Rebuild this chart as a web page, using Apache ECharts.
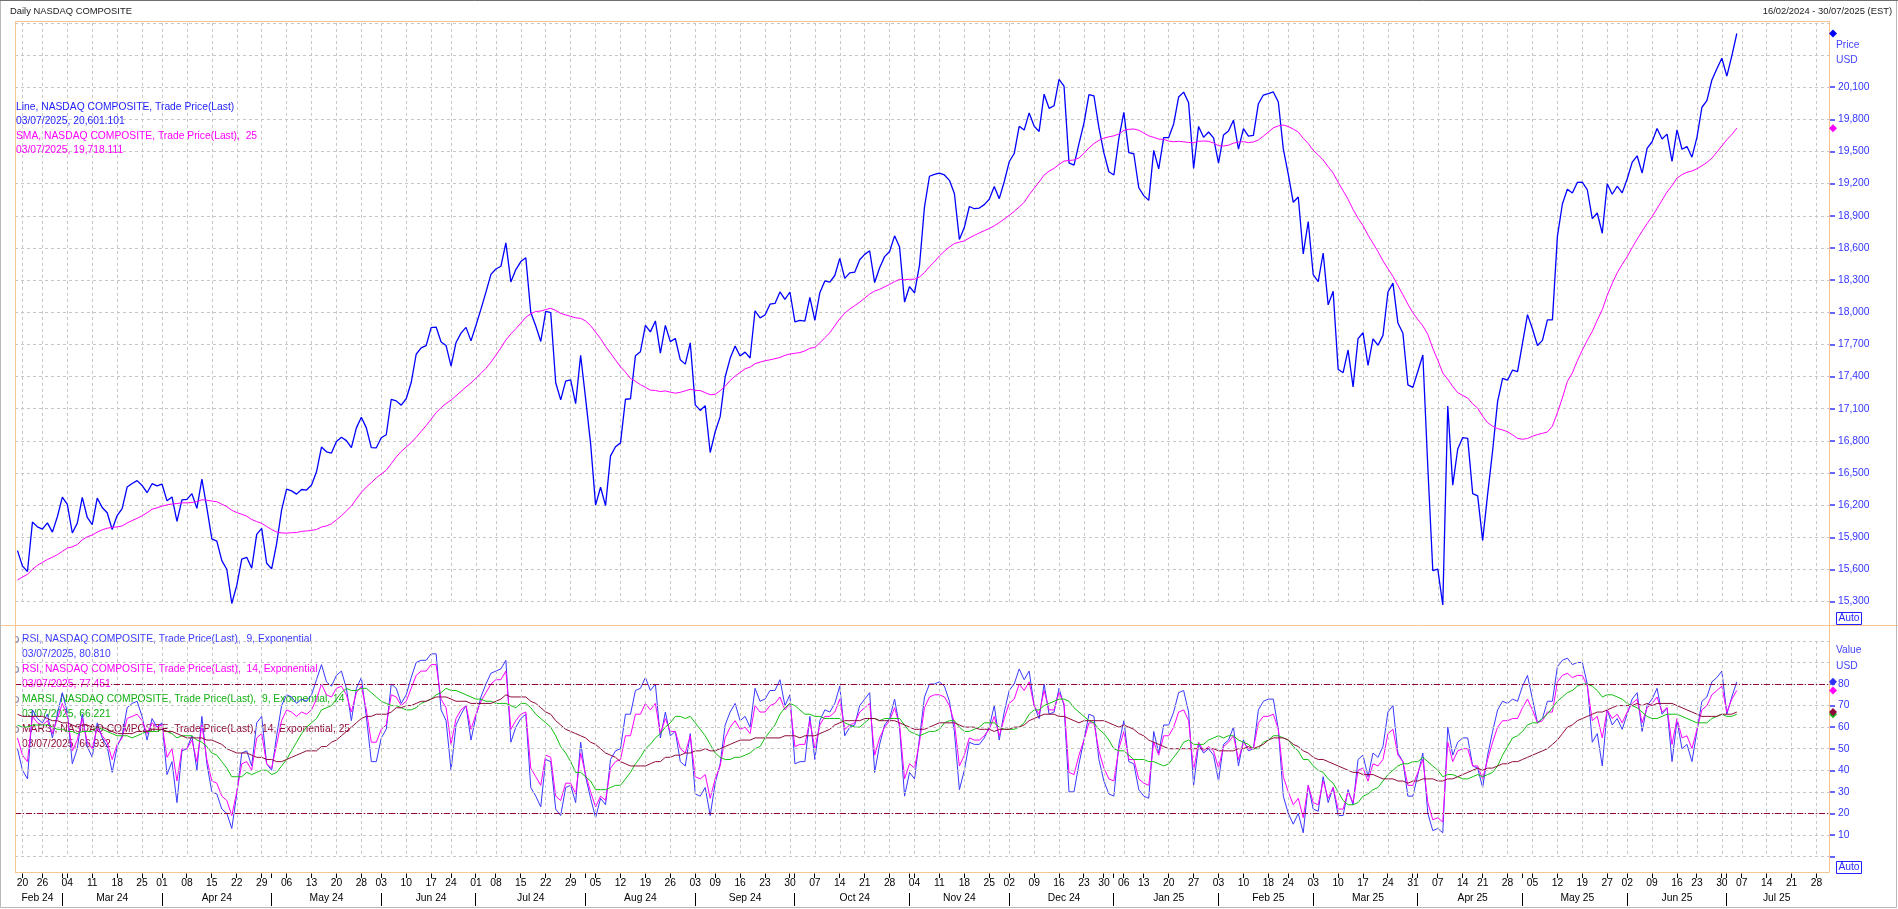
<!DOCTYPE html>
<html><head><meta charset="utf-8">
<style>html,body{margin:0;padding:0;background:#fff}#c{width:1898px;height:909px}</style>
<script src="https://cdn.jsdelivr.net/npm/echarts@6/dist/echarts.min.js"></script>
</head><body><div id="c"></div>
<script>
// ---- trading days (categories), per month ----
const monthDays = [
 ['2024-02',[16,20,21,22,23,26,27,28,29]],
 ['2024-03',[1,4,5,6,7,8,11,12,13,14,15,18,19,20,21,22,25,26,27,28]],
 ['2024-04',[1,2,3,4,5,8,9,10,11,12,15,16,17,18,19,22,23,24,25,26,29,30]],
 ['2024-05',[1,2,3,6,7,8,9,10,13,14,15,16,17,20,21,22,23,24,28,29,30,31]],
 ['2024-06',[3,4,5,6,7,10,11,12,13,14,17,18,20,21,24,25,26,27,28]],
 ['2024-07',[1,2,3,5,8,9,10,11,12,15,16,17,18,19,22,23,24,25,26,29,30,31]],
 ['2024-08',[1,2,5,6,7,8,9,12,13,14,15,16,19,20,21,22,23,26,27,28,29,30]],
 ['2024-09',[3,4,5,6,9,10,11,12,13,16,17,18,19,20,23,24,25,26,27,30]],
 ['2024-10',[1,2,3,4,7,8,9,10,11,14,15,16,17,18,21,22,23,24,25,28,29,30,31]],
 ['2024-11',[1,4,5,6,7,8,11,12,13,14,15,18,19,20,21,22,25,26,27,29]],
 ['2024-12',[2,3,4,5,6,9,10,11,12,13,16,17,18,19,20,23,24,26,27,30,31]],
 ['2025-01',[2,3,6,7,8,10,13,14,15,16,17,20,21,22,23,24,27,28,29,30,31]],
 ['2025-02',[3,4,5,6,7,10,11,12,13,14,18,19,20,21,24,25,26,27,28]],
 ['2025-03',[3,4,5,6,7,10,11,12,13,14,17,18,19,20,21,24,25,26,27,28,31]],
 ['2025-04',[1,2,3,4,7,8,9,10,11,14,15,16,17,21,22,23,24,25,28,29,30]],
 ['2025-05',[1,2,5,6,7,8,9,12,13,14,15,16,19,20,21,22,23,27,28,29,30]],
 ['2025-06',[2,3,4,5,6,9,10,11,12,13,16,17,18,20,23,24,25,26,27,30]],
 ['2025-07',[1,2,3,7,8,9,10,11,14,15,16,17,18,21,22,23,24,25,28,29,30]]
];
// ---- NASDAQ Composite close (Line) ----
const price = [15776,15631,15581,16042,15997,15976,16035,15948,16092,
16275,16208,15940,16032,16273,16085,16019,16266,16178,16129,15973,16103,16167,16369,16402,16429,16384,16316,16400,16379,
16397,16240,16277,16049,16249,16254,16307,16170,16442,16175,15885,15865,15683,15602,15282,15451,15697,15713,15612,15928,15983,15658,
15605,15841,16156,16349,16333,16303,16346,16341,16388,16511,16742,16698,16686,16795,16833,16802,16736,16921,17020,16921,16737,16735,
16829,16857,17188,17173,17133,17193,17344,17608,17668,17689,17857,17862,17722,17689,17497,17718,17805,17859,17733,
17879,18029,18188,18353,18404,18429,18647,18283,18398,18473,18509,17997,17871,17727,18008,17997,17342,17182,17358,17370,17147,17599,
17194,16776,16200,16367,16196,16660,16745,16781,17188,17193,17595,17632,17877,17817,17919,17619,17878,17726,17755,17556,17516,17714,
17136,17084,17128,16691,16885,17026,17396,17570,17684,17592,17628,17573,18014,17948,17974,18075,18082,18190,18120,18189,
17910,17925,17918,18138,17924,18183,18292,18282,18343,18503,18316,18367,18374,18490,18540,18573,18277,18415,18519,18567,18713,18608,18095,
18240,18180,18439,18983,19269,19287,19299,19281,19231,19108,18680,18792,18987,18966,18972,19004,19055,19174,19060,19218,
19404,19481,19735,19700,19860,19737,19687,20035,19903,19927,20174,20109,19393,19373,19573,19765,20031,20020,19722,19487,19311,
19281,19622,19865,19490,19479,19162,19088,19044,19511,19338,19630,19630,19757,20009,20054,19954,19342,19734,19632,19682,19627,
19392,19654,19692,19792,19523,19714,19644,19650,19946,20027,20041,20056,19962,19524,19287,19026,19075,18544,18847,
18350,18285,18553,18069,18196,17468,17436,17648,17303,17754,17809,17504,17751,17692,17784,18189,18272,17899,17804,17323,17299,
17450,17601,16551,15588,15603,15268,17125,16387,16724,16831,16823,16307,16286,15871,16300,16708,17166,17383,17366,17461,17446,
17711,17978,17844,17690,17738,17928,17929,18708,19010,19147,19112,19211,19215,19143,18873,18926,18737,19199,19101,19176,19114,
19243,19399,19460,19298,19530,19591,19715,19616,19662,19407,19701,19521,19546,19447,19631,19913,19974,20168,20273,20370,
20203,20393,20601];
// ---- SMA 25 ----
const sma25 = [15502,15529,15554,15601,15639,15666,15693,15714,15738,15769,15799,15811,15832,15876,15905,15921,15948,15970,15985,15992,15997,16006,16034,16056,16077,16101,16129,16162,16175,16191,
16202,16211,16215,16222,16221,16225,16234,16250,16246,16238,16232,16209,16186,16152,16131,16115,16097,16066,16047,16030,16001,15972,15950,15941,15939,15943,15944,15956,15959,15965,
15973,15996,16006,16026,16063,16101,16146,16192,16257,16320,16369,16410,16455,16491,16526,16587,16650,16701,16743,16783,16834,16888,16942,17003,17062,17110,17148,17180,17221,17261,
17303,17340,17385,17430,17477,17534,17600,17668,17741,17798,17846,17898,17953,17986,18007,18011,18025,18037,18017,17990,17975,17962,17948,17943,17919,17876,17814,17754,17681,17619,
17555,17490,17441,17382,17355,17324,17300,17273,17270,17260,17266,17254,17245,17253,17267,17281,17271,17269,17250,17230,17234,17267,17309,17363,17404,17438,17472,17488,17520,17535,
17548,17556,17567,17578,17598,17610,17617,17624,17639,17664,17672,17714,17762,17808,17874,17939,17991,18030,18062,18094,18132,18170,18198,18214,18237,18260,18286,18307,18303,18308,
18308,18329,18371,18425,18471,18526,18570,18608,18641,18654,18666,18693,18717,18740,18761,18782,18806,18837,18869,18904,18941,18982,19026,19096,19156,19216,19280,19317,19343,19379,
19411,19416,19421,19440,19483,19533,19574,19604,19625,19637,19646,19664,19697,19707,19710,19698,19672,19646,19632,19616,19613,19597,19591,19595,19590,19584,19582,19596,19598,19595,
19579,19554,19551,19559,19578,19588,19592,19583,19589,19608,19643,19681,19721,19739,19747,19733,19709,19682,19623,19575,19511,19468,19421,19358,19299,19213,19134,19054,18959,18877,
18809,18720,18644,18566,18480,18406,18335,18249,18163,18075,17995,17932,17873,17793,17663,17553,17433,17375,17308,17249,17224,17199,17146,17105,17030,16969,16937,16914,16902,16885,
16856,16823,16815,16822,16843,16859,16870,16883,16938,17063,17200,17355,17434,17547,17647,17739,17821,17926,18024,18157,18269,18368,18446,18520,18602,18682,18756,18828,18893,18968,
19045,19122,19181,19252,19284,19306,19318,19338,19367,19397,19438,19494,19552,19610,19658,19718];
// ---- RSI 9 (exponential) ----
const rsi9 = [50,40,36,68,64,62,66,55,66,76,67,43,50,66,51,46,62,55,51,39,51,56,69,71,72,65,54,64,60,62,
38,44,25,49,50,56,40,65,43,30,29,22,20,13,29,48,49,42,62,65,43,40,56,70,75,74,71,73,72,75,
82,89,81,79,84,86,78,63,78,83,65,44,44,55,59,80,78,71,75,83,90,91,91,94,94,68,63,40,61,66,
70,54,65,74,80,85,86,87,91,53,60,64,66,32,28,23,45,44,22,19,32,33,25,53,37,27,18,27,24,45,
49,50,66,66,77,78,83,77,80,55,67,56,58,44,42,57,29,28,32,19,34,43,61,67,71,63,65,60,78,72,
73,77,77,82,70,75,43,44,44,65,45,63,68,67,71,79,56,60,61,70,73,76,39,52,61,64,73,60,28,39,
36,55,74,80,80,81,79,72,58,31,40,53,52,52,55,60,70,54,67,77,80,87,82,86,70,64,80,66,67,78,
70,30,30,43,54,66,65,45,35,29,28,52,63,44,43,31,28,27,58,48,61,61,67,76,77,67,33,52,48,50,
47,35,52,54,60,42,54,49,50,68,72,73,73,59,28,20,15,20,11,33,22,21,37,25,32,19,19,31,24,45,
47,37,48,46,51,67,70,48,44,28,28,38,48,20,12,13,11,60,47,53,55,55,42,41,32,47,58,68,72,71,
73,72,79,84,73,62,64,72,72,88,91,92,89,90,90,80,53,57,42,68,61,64,59,66,73,76,58,70,73,78,
66,69,44,63,50,52,44,58,72,74,81,83,86,66,74,81];
// ---- RSI 14 (exponential) ----
const rsi14 = [55,47,44,65,62,61,63,57,64,71,65,49,54,64,53,50,60,56,53,45,52,55,64,65,66,63,57,62,60,61,
46,50,35,50,50,54,44,61,45,35,34,28,26,19,30,43,44,40,55,57,43,41,52,63,68,67,65,67,66,68,
73,80,75,74,78,79,75,67,76,79,68,53,53,59,61,75,74,70,72,78,84,86,86,89,89,73,69,52,64,68,
70,59,66,72,76,80,82,82,86,59,63,66,67,41,37,33,47,46,28,26,34,34,29,48,38,30,23,28,26,41,
44,45,56,56,66,66,71,68,71,57,64,58,58,50,48,56,37,36,38,27,36,42,55,60,63,59,60,57,70,67,
67,70,71,74,68,71,51,52,52,63,50,61,65,65,67,73,59,61,62,67,69,71,47,55,60,63,69,61,36,43,
41,53,69,74,75,75,74,70,62,42,47,55,54,54,56,59,65,56,64,71,73,80,77,81,70,66,77,68,68,76,
71,39,38,47,54,62,62,49,41,36,35,50,58,45,45,36,34,33,53,47,56,56,60,67,68,63,40,53,49,51,
49,41,51,53,56,45,53,50,50,62,65,65,66,59,37,30,24,27,18,33,25,24,35,27,32,22,22,30,25,40,
41,35,43,42,45,57,59,47,44,33,33,39,45,25,17,18,16,53,44,49,50,50,42,42,36,45,53,60,63,63,
64,64,69,73,68,62,63,67,67,81,84,85,83,84,84,79,63,65,55,68,64,66,62,67,71,73,62,69,71,74,
67,69,52,64,55,56,50,59,68,70,75,77,79,67,73,77];
// ---- MARSI 9 / 14 ----
const marsi9 = [61,60,60,61,61,61,61,60,59,59,58,58,57,58,58,58,60,59,58,57,56,56,56,55,56,57,58,58,58,59,
58,57,55,56,56,56,54,53,51,48,47,44,41,37,37,37,39,38,39,40,40,38,39,42,45,49,53,57,60,62,
64,68,69,70,73,76,78,77,77,78,78,76,74,72,71,70,70,69,68,68,69,71,72,73,75,76,78,77,77,76,
75,74,73,73,72,72,71,71,71,70,69,71,71,69,66,64,62,60,56,51,48,44,39,39,37,35,31,31,31,32,
33,33,36,39,43,46,50,52,55,57,60,62,65,65,64,65,62,59,56,52,48,46,45,45,46,46,47,48,50,51,
55,58,61,66,69,71,70,68,66,66,65,65,64,64,64,64,62,61,60,60,62,64,64,63,64,64,64,64,61,58,
57,56,57,58,58,59,62,63,63,60,58,58,59,60,62,62,62,60,59,59,59,60,62,66,68,68,70,71,72,73,
73,72,69,67,65,63,62,59,57,54,50,49,49,47,45,45,45,44,44,43,42,43,46,49,53,54,52,52,52,54,
55,56,55,56,56,54,53,52,50,50,53,54,56,56,55,54,51,49,45,45,42,40,39,36,34,30,26,24,24,25,
28,29,31,32,35,38,40,42,43,43,44,44,46,44,42,40,37,38,38,37,36,36,37,38,37,38,39,42,47,51,
55,56,58,61,62,62,64,66,69,72,74,76,77,79,80,80,79,77,74,75,75,74,73,71,70,69,67,65,64,64,
65,66,66,66,65,64,63,62,62,62,64,65,66,65,65,66];
const marsi14 = [66,65,65,65,65,65,64,63,63,62,62,61,60,61,61,60,60,60,59,58,57,57,57,57,58,58,58,59,59,59,
58,58,57,56,55,55,55,55,54,54,53,52,50,49,48,48,48,47,46,46,45,45,44,44,45,46,47,48,49,49,
49,51,51,53,54,56,58,60,62,64,65,65,66,66,66,67,69,69,70,70,71,72,72,73,74,74,74,73,72,72,
72,71,71,71,71,71,72,73,75,74,74,74,74,72,71,69,67,66,63,61,59,58,57,56,55,53,52,50,48,47,
46,44,43,42,42,42,42,43,44,44,46,46,47,47,48,48,49,49,50,49,49,50,51,52,53,54,54,54,55,55,
55,55,55,55,56,56,56,55,56,56,56,57,58,59,61,62,63,63,63,63,64,64,64,63,63,63,63,62,61,60,
59,59,59,60,61,62,62,62,62,61,60,60,60,59,59,59,58,59,59,59,60,60,61,63,64,65,66,66,66,65,
65,64,63,62,63,63,63,63,63,62,61,60,61,60,59,57,56,54,53,52,51,50,50,50,50,50,50,50,50,50,
50,49,49,49,49,50,50,51,50,51,52,54,55,55,55,54,52,51,49,48,46,45,45,44,43,42,41,40,39,39,
38,38,38,37,36,36,36,35,35,34,35,35,36,36,36,35,35,36,36,37,38,39,40,41,40,41,41,42,43,43,
44,44,45,46,47,48,49,50,52,54,57,60,61,63,64,65,66,67,67,68,69,70,70,70,70,71,70,71,70,71,
71,71,71,70,69,68,67,66,65,65,65,65,66,66,66,67];
// ---- axis tick values ----
const priceTicks = [15300,15600,15900,16200,16500,16800,17100,17400,17700,18000,18300,18600,18900,19200,19500,19800,20100];
const rsiTickValues = [0,10,20,30,40,50,60,70,80];
const rsiLabelValues = [10,20,30,40,50,60,70,80];
const rsiLevels = [80,20];
const monthNames = ['Jan','Feb','Mar','Apr','May','Jun','Jul','Aug','Sep','Oct','Nov','Dec'];

// ---- build categories & tick masks ----
const cats = [];
monthDays.forEach(([ym, days]) => days.forEach(d => cats.push(ym + '-' + String(d).padStart(2, '0'))));
const N = cats.length;
const weekStart = [], monthStart = [], monthMid = new Array(N).fill(false);
let pT = null, pD = null;
cats.forEach((c, i) => {
  const t = Date.parse(c + 'T00:00:00Z'), dw = new Date(t).getUTCDay();
  weekStart[i] = i > 0 && (dw < pD || (t - pT) >= 7 * 864e5);
  monthStart[i] = i > 0 && c.slice(0, 7) !== cats[i - 1].slice(0, 7);
  pT = t; pD = dw;
});
const starts = [0]; monthStart.forEach((m, i) => { if (m) starts.push(i); });
starts.forEach((s, m) => {
  const L = m === 0 ? 0 : s + 0.5, R = m === starts.length - 1 ? N : starts[m + 1] + 0.5;
  monthMid[Math.round((L + R) / 2 - 0.5)] = true;
});

const FONT = 'Liberation Sans';
const GRID = '#c6c6c6';
const C = { price: '#0000ff', sma: '#ff00ff', r9: '#3838ff', r14: '#ff00ff', m9: '#12c012', m14: '#8e0a3c', axis: '#3434ff' };
const split = { show: true, lineStyle: { color: GRID, type: [3, 3], width: 1 } };
const weekSplit = { show: true, alignWithLabel: true, interval: i => weekStart[i], lineStyle: { color: GRID, type: [3, 3], width: 1 } };
const L = 15, R = 69;

const chart = echarts.init(document.getElementById('c'), null, { renderer: 'canvas' });
chart.setOption({
  animation: false,
  backgroundColor: '#fff',
  textStyle: { fontFamily: FONT },
  grid: [
    { left: L, right: R, top: 22.9, bottom: 909 - 601.6 },
    { left: L, right: R, top: 640.9, bottom: 909 - 856.5 }
  ],
  xAxis: [
    { gridIndex: 0, type: 'category', position: 'bottom', data: cats, boundaryGap: true, axisLine: { show: false }, axisTick: { show: false }, axisLabel: { show: false }, splitLine: weekSplit },
    { gridIndex: 1, type: 'category', position: 'bottom', data: cats, boundaryGap: true, offset: 15.5, z: 4,
      axisLine: { show: false }, axisTick: { show: false },
      axisLabel: { interval: i => weekStart[i], margin: 6, fontSize: 10.3, color: '#000', fontFamily: FONT, formatter: v => v.slice(8, 10) },
      splitLine: weekSplit },
    { gridIndex: 1, type: 'category', position: 'bottom', data: cats, boundaryGap: true, offset: 35.5,
      axisLine: { show: false }, axisTick: { show: false },
      axisLabel: { interval: i => monthMid[i], margin: 1, fontSize: 10.3, color: '#000', fontFamily: FONT, formatter: v => monthNames[+v.slice(5, 7) - 1] + ' ' + v.slice(2, 4) },
      splitLine: { show: false } }
  ],
  yAxis: [
    { gridIndex: 0, type: 'value', position: 'right', min: 15300, max: 20700, interval: 300, axisLine: { show: false }, axisTick: { show: false }, axisLabel: { show: false }, splitLine: split },
    { gridIndex: 0, type: 'value', position: 'right', min: 15300, max: 20700, interval: 300, axisLine: { show: false }, splitLine: { show: false },
      axisTick: { show: true, length: 6, customValues: priceTicks, lineStyle: { color: C.axis, width: 1.5 } },
      axisLabel: { customValues: priceTicks, margin: 9, fontSize: 10.3, color: C.axis, fontFamily: FONT, formatter: v => Number(v).toLocaleString('en-US') } },
    { gridIndex: 1, type: 'value', position: 'right', min: 0, max: 100, interval: 10, z: 4, axisLine: { show: false }, axisTick: { show: false }, axisLabel: { show: false }, splitLine: split },
    { gridIndex: 1, type: 'value', position: 'right', min: 0, max: 100, interval: 10, axisLine: { show: false }, splitLine: { show: false },
      axisTick: { show: true, length: 6, customValues: rsiTickValues, lineStyle: { color: C.axis, width: 1.5 } },
      axisLabel: { customValues: rsiLabelValues, margin: 9, fontSize: 10.3, color: C.axis, fontFamily: FONT } }
  ],
  series: [
    { name: 'Line', type: 'line', xAxisIndex: 0, yAxisIndex: 0, data: price, showSymbol: false, clip: false, silent: true, lineStyle: { color: C.price, width: 1.3 }, itemStyle: { color: C.price } },
    { name: 'SMA', type: 'line', xAxisIndex: 0, yAxisIndex: 0, data: sma25, showSymbol: false, silent: true, lineStyle: { color: C.sma, width: 1 }, itemStyle: { color: C.sma } },
    { name: 'RSI9', type: 'line', xAxisIndex: 1, yAxisIndex: 2, data: rsi9, showSymbol: false, silent: true, lineStyle: { color: C.r9, width: 1 }, itemStyle: { color: C.r9 },
      markLine: { silent: true, symbol: ['none', 'none'], label: { show: false }, lineStyle: { color: '#98003a', type: [6, 2, 1, 2], width: 1 }, data: rsiLevels.map(v => ({ yAxis: v })) } },
    { name: 'RSI14', type: 'line', xAxisIndex: 1, yAxisIndex: 2, data: rsi14, showSymbol: false, silent: true, lineStyle: { color: C.r14, width: 1 }, itemStyle: { color: C.r14 } },
    { name: 'MARSI9', type: 'line', xAxisIndex: 1, yAxisIndex: 2, data: marsi9, showSymbol: false, silent: true, lineStyle: { color: C.m9, width: 1 }, itemStyle: { color: C.m9 } },
    { name: 'MARSI14', type: 'line', xAxisIndex: 1, yAxisIndex: 2, data: marsi14, showSymbol: false, silent: true, lineStyle: { color: C.m14, width: 1 }, itemStyle: { color: C.m14 } }
  ]
});

// ---- decorations ----
const G = [];
const OR = '#f7c593';
const ln = (x1, y1, x2, y2, stroke, z) => G.push({ type: 'line', silent: true, z: z || 10, shape: { x1, y1, x2, y2 }, style: { stroke, lineWidth: 1 } });
const tx = (x, y, text, fill, size, extra) => G.push({ type: 'text', silent: true, z: (extra && extra.z) || 10, x, y,
  style: Object.assign({ text, fill, font: size + 'px "' + FONT + '"', align: 'left', verticalAlign: 'middle' }, (extra && extra.style) || {}) });
const dia = (x, y, fill) => G.push({ type: 'polygon', silent: true, z: 11, shape: { points: [[x, y - 4], [x + 4, y], [x, y + 4], [x - 4, y]] }, style: { fill } });

G.push({ type: 'rect', silent: true, z: 12, shape: { x: 0.5, y: 0.5, width: 1896, height: 907 }, style: { fill: 'none', stroke: '#b8b8b8', lineWidth: 1 } });
ln(0, 0.5, 1898, 0.5, '#707070', 12);
ln(15, 21.5, 1829.5, 21.5, OR); ln(15.5, 21, 15.5, 872.5, OR); ln(1829.5, 21, 1829.5, 872.5, OR);
ln(0, 625.5, 1898, 625.5, OR); ln(15, 872.5, 1829.5, 872.5, OR);

// date-axis ticks and month separators, placed through the category axis scale
const cx = i => Math.floor(chart.convertToPixel({ xAxisIndex: 1 }, i)) + 0.5;
cats.forEach((c, i) => {
  if (weekStart[i] || monthStart[i]) ln(cx(i), 873.5, cx(i), 878, '#000', 10);
  if (monthStart[i]) ln(cx(i), 893, cx(i), 906, '#000', 10);
});

tx(10, 11, 'Daily NASDAQ COMPOSITE', '#1a1a1a', 9.4);
tx(1892, 11, '16/02/2024 - 30/07/2025 (EST)', '#1a1a1a', 9.4, { style: { align: 'right' } });

tx(16, 107, 'Line, NASDAQ COMPOSITE, Trade Price(Last)', '#1e1eff', 10.3);
tx(16, 121.5, '03/07/2025, 20,601.101', '#1e1eff', 10.3);
tx(16, 136, 'SMA, NASDAQ COMPOSITE, Trade Price(Last),  25', '#ff00ff', 10.3);
tx(16, 150.5, '03/07/2025, 19,718.111', '#ff00ff', 10.3);

const leg = [
  ['RSI, NASDAQ COMPOSITE, Trade Price(Last),  9, Exponential', '03/07/2025, 80.810', '#3a3aff'],
  ['RSI, NASDAQ COMPOSITE, Trade Price(Last),  14, Exponential', '03/07/2025, 77.451', '#ff00ff'],
  ['MARSI, NASDAQ COMPOSITE, Trade Price(Last),  9, Exponential, 14', '03/07/2025, 66.221', '#10b010'],
  ['MARSI, NASDAQ COMPOSITE, Trade Price(Last),  14, Exponential, 25', '03/07/2025, 66.932', '#8e0a3c']
];
leg.forEach((r, k) => {
  const y0 = 639.5 + k * 30;
  const bg = { z: 3, style: { backgroundColor: '#fff', padding: [0, 1] } };
  tx(21, y0, r[0], r[2], 10.3, bg);
  tx(21, y0 + 15, r[1], r[2], 10.3, bg);
  G.push({ type: 'arc', silent: true, z: 11, shape: { cx: 15.5, cy: y0, r: 3, startAngle: -Math.PI / 2, endAngle: Math.PI / 2 }, style: { stroke: '#8c8ca8', fill: 'none', lineWidth: 1.2 } });
});

tx(1836, 45, 'Price', '#4444ff', 10.3); tx(1836, 60.5, 'USD', '#4444ff', 10.3);
tx(1836, 650, 'Value', '#4444ff', 10.3); tx(1836, 666, 'USD', '#4444ff', 10.3);
[612, 861].forEach(y => {
  G.push({ type: 'rect', silent: true, z: 11, shape: { x: 1836.5, y: y + 0.5, width: 25, height: 12 }, style: { fill: '#fff', stroke: '#2020ff', lineWidth: 1 } });
  tx(1849, y + 6.5, 'Auto', '#2a2aff', 10.3, { z: 12, style: { align: 'center' } });
});

const last = a => a[a.length - 1];
const py = v => chart.convertToPixel({ yAxisIndex: 0 }, v);
const ry = v => chart.convertToPixel({ yAxisIndex: 2 }, v);
dia(1833, py(last(price)), '#0000ff');
dia(1833, py(last(sma25)), '#ff00ff');
dia(1833, ry(last(marsi9)), '#10b010');
dia(1833, ry(last(marsi14)), '#8e0a3c');
dia(1833, ry(last(rsi14)), '#ff00ff');
dia(1833, ry(last(rsi9)), '#3030ff');

chart.setOption({ graphic: { elements: G } });
</script></body></html>
